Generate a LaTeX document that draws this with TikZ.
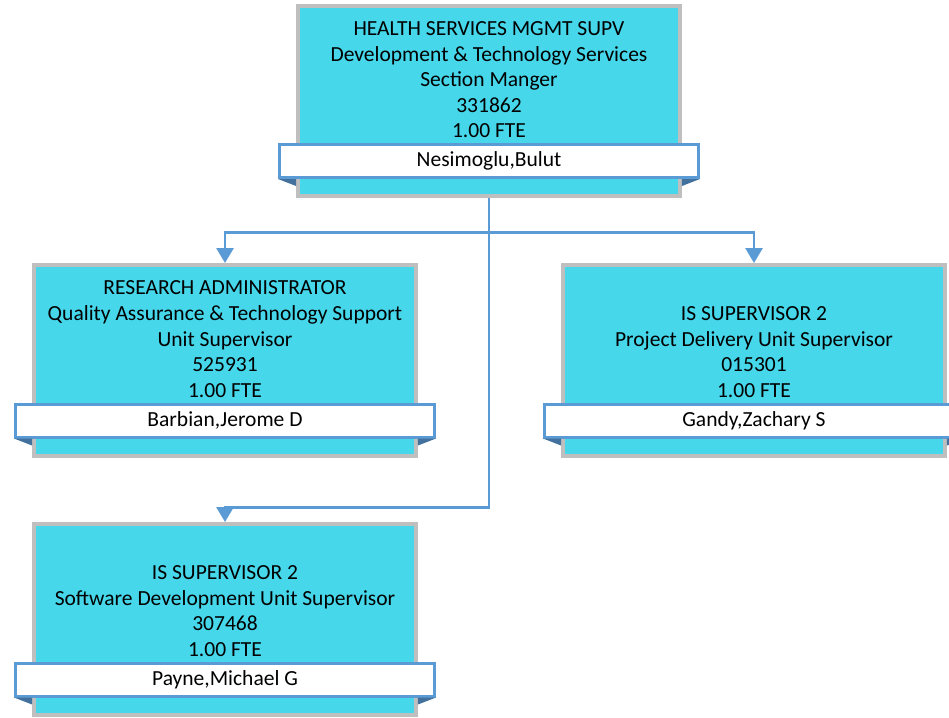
\documentclass[tikz,border=0pt]{standalone}
\usepackage{fontspec}
\setmainfont{Carlito}
\usetikzlibrary{arrows.meta, positioning, calc}

\definecolor{posfill}{HTML}{46D7EB}
\definecolor{posedge}{HTML}{BFBFBF}
\definecolor{nameedge}{HTML}{5B9BD5}
\definecolor{namefold}{HTML}{41719C}

\tikzset{
  posbox/.style={draw=posedge, fill=posfill, line width=0.08cm, minimum width=7.64cm, minimum height=3.82cm},
  namebox/.style={draw=nameedge, fill=white, line width=0.06cm, minimum width=8.38cm, minimum height=0.66cm, inner sep=0pt, text height=0.644em, text depth=0pt},
  postext/.style={align=center, inner sep=0pt},
  conn/.style={draw=nameedge, line width=0.055cm, -{Triangle[width=0.34cm,length=0.3cm]}},
}

% paper folds under the name ribbon
\newcommand{\ribfold}[2]{%
  \fill[namefold] (#2.south west) -- (#2.south west -| #1.west) -- ($(#2.south west -| #1.west)+(0,7)$) -- cycle;
  \fill[namefold] (#2.south east) -- (#2.south east -| #1.east) -- ($(#2.south east -| #1.east)+(0,7)$) -- cycle;
}

\begin{document}
\begin{tikzpicture}[x=0.02cm, y=-0.02cm, font=\fontsize{12.25}{14.6}\selectfont, >=Stealth]
  \useasboundingbox (0,0) rectangle (949,717);

  % Section manager
  \node[posbox] (mgr) at (489,101) {};
  \node[namebox] (mgrn) at ($(mgr.center)+(0,60)$) {Nesimoglu,Bulut};
  \ribfold{mgr}{mgrn}
  \node[postext, above=0.09cm of mgrn] (mgrt) {HEALTH SERVICES MGMT SUPV\\Development \& Technology Services\\Section Manger\\331862\\1.00 FTE};

  % Research administrator
  \node[posbox] (qa) at (225,360.5) {};
  \node[namebox] (qan) at ($(qa.center)+(0,60)$) {Barbian,Jerome D};
  \ribfold{qa}{qan}
  \node[postext, above=0.09cm of qan] (qat) {RESEARCH ADMINISTRATOR\\Quality Assurance \& Technology Support\\Unit Supervisor\\525931\\1.00 FTE};

  % Project delivery
  \node[posbox] (pd) at (754,360.5) {};
  \node[namebox] (pdn) at ($(pd.center)+(0,60)$) {Gandy,Zachary S};
  \ribfold{pd}{pdn}
  \node[postext, above=0.09cm of pdn] (pdt) {IS SUPERVISOR 2\\Project Delivery Unit Supervisor\\015301\\1.00 FTE};

  % Software development
  \node[posbox] (sd) at (225,619.5) {};
  \node[namebox] (sdn) at ($(sd.center)+(0,60)$) {Payne,Michael G};
  \ribfold{sd}{sdn}
  \node[postext, above=0.09cm of sdn] (sdt) {IS SUPERVISOR 2\\Software Development Unit Supervisor\\307468\\1.00 FTE};

  % Connectors
  \coordinate (bus) at ($(mgr.south)+(0,34)$);
  \coordinate (low) at ($(mgr.south)+(0,309)$);
  \draw[conn] (mgr.south) -- (bus) -| (qa.north);
  \draw[conn] (bus) -| (pd.north);
  \draw[conn] (bus) -- (low) -| (sd.north);
\end{tikzpicture}
\end{document}
